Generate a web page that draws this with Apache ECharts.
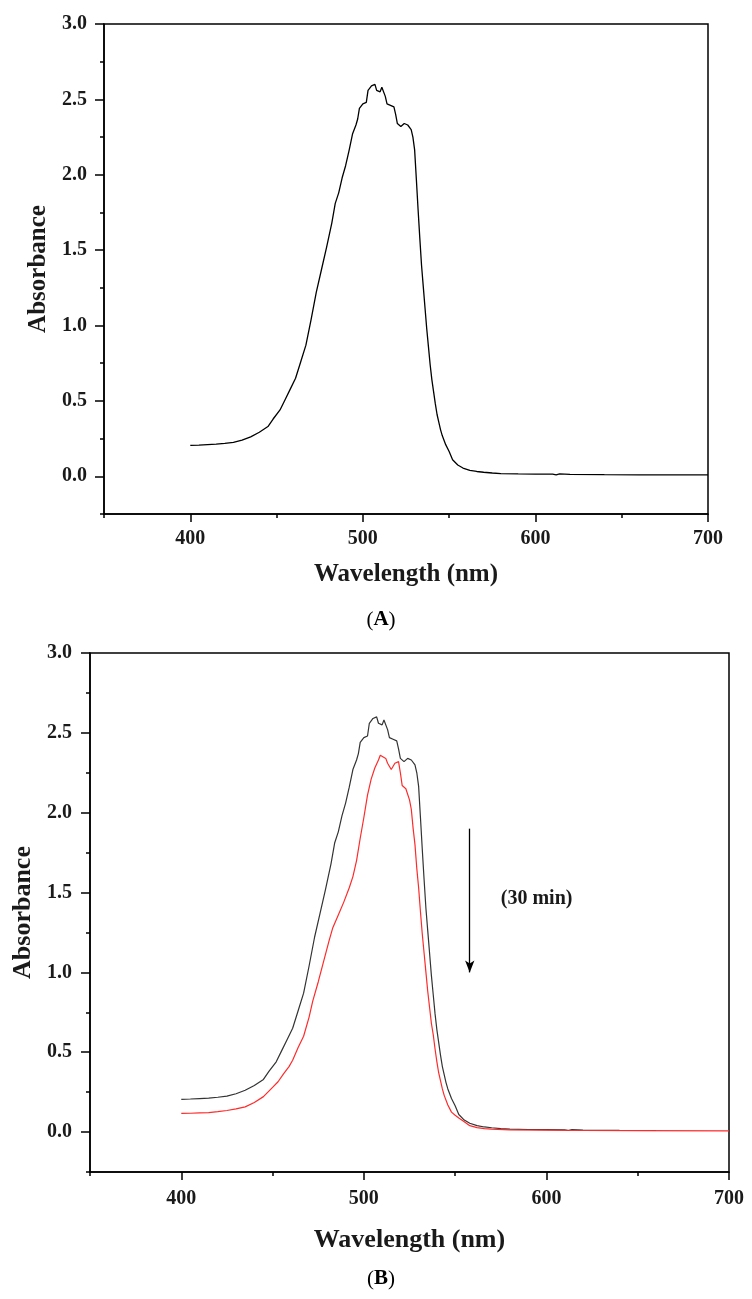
<!DOCTYPE html>
<html><head><meta charset="utf-8">
<script src="https://cdn.jsdelivr.net/npm/echarts@6/dist/echarts.min.js"></script>
<style>html,body{margin:0;padding:0;background:#fff}#c{width:752px;height:1299px}</style>
</head><body><div id="c"></div>
<script>
// ---- data ----
const wlBlack = [400,405,410,415,420,425,430,435,440,445,448,452,455,458,461,464,467,470,473,476,479,482,484,486,488,490,492,494,496,497,498,500,502,503,505,507,508,509,510,511,512,513,514,516,518,519,520,522,524,525,526,528,529,530,531,532,533,534,535,536,537,538,539,540,541,542,543,544,545,546,548,550,552,555,558,562,566,570,575,580,590,600,610,612,614,620,640,660,680,700];
const absBlack = [0.205,0.207,0.210,0.213,0.218,0.225,0.240,0.262,0.292,0.330,0.380,0.440,0.510,0.580,0.650,0.760,0.870,1.040,1.220,1.370,1.520,1.680,1.810,1.880,1.980,2.060,2.160,2.270,2.330,2.370,2.440,2.470,2.480,2.560,2.590,2.600,2.560,2.570,2.550,2.580,2.590,2.520,2.470,2.460,2.450,2.400,2.340,2.320,2.340,2.350,2.330,2.300,2.250,2.165,1.970,1.770,1.580,1.400,1.260,1.120,0.980,0.860,0.740,0.640,0.560,0.480,0.410,0.360,0.310,0.270,0.210,0.165,0.110,0.075,0.055,0.040,0.032,0.027,0.022,0.018,0.016,0.015,0.014,0.010,0.016,0.013,0.011,0.010,0.010,0.010];
const wlRed = [400,405,410,415,420,425,430,435,440,445,450,453,456,459,461,464,467,470,472,475,478,481,483,486,489,492,494,496,498,500,502,504,506,508,509,510,512,513,515,517,519,520,521,523,525,526,527,528,529,530,531,532,533,534,535,536,537,538,539,540,541,542,543,544,546,548,550,552,555,558,562,566,570,580,600,620,650,700];
const absRed = [0.117,0.118,0.120,0.122,0.128,0.135,0.145,0.158,0.185,0.222,0.280,0.315,0.365,0.410,0.450,0.530,0.600,0.720,0.820,0.940,1.070,1.200,1.280,1.360,1.440,1.530,1.600,1.700,1.840,1.970,2.110,2.210,2.280,2.330,2.360,2.350,2.340,2.310,2.270,2.310,2.320,2.250,2.170,2.150,2.080,2.020,1.900,1.800,1.650,1.530,1.380,1.240,1.120,1.000,0.880,0.780,0.680,0.610,0.520,0.440,0.370,0.320,0.270,0.230,0.170,0.125,0.105,0.088,0.065,0.040,0.028,0.022,0.018,0.014,0.012,0.010,0.009,0.008];
const blackBMaxWl = 670;          // black trace in panel B stops near 670 nm
const xMajorTicks = [400,500,600,700];
const yMajorTicks = [0,0.5,1.0,1.5,2.0,2.5,3.0];
const arrowX = 558, arrowFrom = 1.9, arrowTo = 1.0;
const noteText = '(30 min)';
const notePos = [575, 1.46];
const captions = ['A','B'];

// ---- build ----
const serif = 'Liberation Serif';
const pairs = (xs, ys, maxX) => xs.map((x,i)=>[x,ys[i]]).filter(p=>maxX==null || p[0]<=maxX);
const axisLS = {color:'#000', width:1.5};
const txtCol = '#1a1a1a';

function axesFor(g, o){
  const xs = [
    {type:'value', gridIndex:g, position:'bottom', min:350, max:700,
     name:'Wavelength (nm)', nameLocation:'middle', nameGap:o.xNameGap,
     nameTextStyle:{fontFamily:serif, fontWeight:'bold', fontSize:o.nameSize, color:txtCol},
     axisLine:{show:true, onZero:false, lineStyle:axisLS},
     axisTick:{show:true, customValues:xMajorTicks, length:8, lineStyle:axisLS},
     axisLabel:{customValues:xMajorTicks, margin:o.xLabMargin, fontFamily:serif, fontWeight:'bold', fontSize:20, color:txtCol,
       formatter:v=> (v%100===0 && v>=400) ? String(v) : ''},
     splitLine:{show:false}},
    {type:'value', gridIndex:g, position:'bottom', min:350, max:700, interval:50,
     axisLine:{show:false, onZero:false}, axisTick:{show:true, length:4, lineStyle:axisLS},
     axisLabel:{show:false}, splitLine:{show:false}}
  ];
  const ys = [
    {type:'value', gridIndex:g, position:'left', min:-0.25, max:3,
     name:'Absorbance', nameLocation:'middle', nameGap:o.yNameGap,
     nameTextStyle:{fontFamily:serif, fontWeight:'bold', fontSize:o.nameSize, color:txtCol},
     axisLine:{show:true, onZero:false, lineStyle:axisLS},
     axisTick:{show:true, customValues:yMajorTicks, length:9, lineStyle:axisLS},
     axisLabel:{customValues:yMajorTicks, margin:o.yLabMargin, fontFamily:serif, fontWeight:'bold', fontSize:20, color:txtCol,
       formatter:v=>Number(v).toFixed(1)},
     splitLine:{show:false}},
    {type:'value', gridIndex:g, position:'left', min:-0.25, max:3, interval:0.25,
     axisLine:{show:false, onZero:false}, axisTick:{show:true, length:4, lineStyle:axisLS},
     axisLabel:{show:false}, splitLine:{show:false}}
  ];
  return {xs, ys};
}
const a = axesFor(0, {xNameGap:48, yNameGap:46, nameSize:25, xLabMargin:15, yLabMargin:17});
const b = axesFor(1, {xNameGap:55, yNameGap:52, nameSize:26, xLabMargin:17, yLabMargin:18});

const gridStyle = {show:true, borderColor:'#000', borderWidth:1.5, backgroundColor:'transparent'};
const option = {
  animation:false,
  backgroundColor:'#fff',
  grid:[
    Object.assign({left:104, right:44, top:24, height:490}, gridStyle),
    Object.assign({left:90, right:23, top:653, height:519}, gridStyle)
  ],
  xAxis:[...a.xs, ...b.xs],
  yAxis:[...a.ys, ...b.ys],
  series:[
    {type:'line', xAxisIndex:0, yAxisIndex:0, data:pairs(wlBlack, absBlack), showSymbol:false,
     lineStyle:{color:'#000', width:1.3}, z:5},
    {type:'line', xAxisIndex:2, yAxisIndex:2, data:pairs(wlBlack, absBlack, blackBMaxWl), showSymbol:false,
     lineStyle:{color:'#333', width:1.2}, z:5},
    {type:'line', xAxisIndex:2, yAxisIndex:2, data:pairs(wlRed, absRed), showSymbol:false,
     lineStyle:{color:'#ff2a2a', width:1.2}, z:6,
     markLine:{silent:true, symbol:['none','arrow'], symbolSize:[7,12], label:{show:false},
       lineStyle:{color:'#000', width:1.3, type:'solid'},
       data:[[{coord:[arrowX, arrowFrom]},{coord:[arrowX, arrowTo]}]]},
     markPoint:{silent:true, symbol:'circle', symbolSize:0,
       label:{show:true, position:'right', distance:0, formatter:noteText, fontFamily:serif, fontWeight:'bold', fontSize:20, color:txtCol},
       data:[{coord:notePos}]}
    }
  ],
  graphic:[
    {type:'text', style:{x:381, y:620, align:'center', verticalAlign:'middle',
      text:'{p|(}{b|'+captions[0]+'}{p|)}', rich:{p:{fontFamily:serif, fontSize:21, fill:'#000'}, b:{fontFamily:serif, fontWeight:'bold', fontSize:21, fill:'#000'}}}},
    {type:'text', style:{x:381, y:1279, align:'center', verticalAlign:'middle',
      text:'{p|(}{b|'+captions[1]+'}{p|)}', rich:{p:{fontFamily:serif, fontSize:21, fill:'#000'}, b:{fontFamily:serif, fontWeight:'bold', fontSize:21, fill:'#000'}}}}
  ]
};
const chart = echarts.init(document.getElementById('c'), null, {renderer:'canvas'});
chart.setOption(option);
</script></body></html>
